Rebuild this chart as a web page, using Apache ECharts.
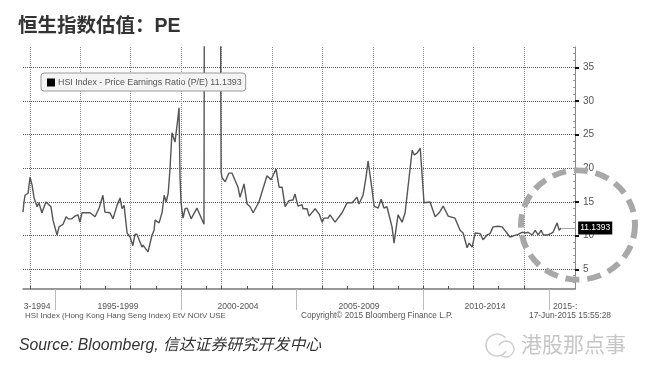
<!DOCTYPE html>
<html>
<head>
<meta charset="utf-8">
<style>
html, body { margin: 0; padding: 0; background: #fff; }
#main { width: 660px; height: 365px; filter: blur(0.55px); }
</style>
<script src="https://cdn.jsdelivr.net/npm/echarts@6/dist/echarts.min.js"></script>
</head>
<body>
<div id="main"></div>
<script>
// year position / PE (the two 60s run off the top of the plot)
var years = [1994.13,1994.17,1994.21,1994.33,1994.41,1994.49,1994.57,1994.69,1994.76,1994.88,
    1995.04,1995.24,1995.32,1995.48,1995.56,1995.72,1995.84,1995.92,1996.07,1996.19,1996.31,1996.39,1996.47,1996.79,1996.99,
    1997.15,1997.30,1997.38,1997.58,1997.70,1997.86,1997.98,1998.06,1998.14,1998.26,1998.38,1998.49,1998.57,1998.65,1998.85,1998.89,
    1999.09,1999.25,1999.33,1999.37,1999.53,1999.65,1999.73,1999.81,1999.89,1999.96,
    2000.04,2000.16,2000.28,2000.32,2000.36,2000.40,2000.48,2000.56,2000.64,2000.80,
    2001.03,2001.31,2001.33,2001.95,2001.99,2002.03,2002.15,2002.30,2002.42,2002.66,2002.74,2002.90,
    2003.02,2003.14,2003.26,2003.49,2003.81,2003.97,2004.17,2004.29,2004.41,2004.53,2004.68,2004.84,2004.92,
    2005.04,2005.20,2005.24,2005.40,2005.48,2005.72,2005.88,2006.00,2006.07,2006.23,2006.31,2006.51,2006.79,2006.99,
    2007.19,2007.38,2007.46,2007.62,2007.74,2007.82,2007.98,2008.06,2008.22,2008.34,2008.45,2008.57,2008.77,2008.85,
    2009.01,2009.17,2009.29,2009.57,2009.65,2009.77,2009.89,2010.04,2010.28,2010.48,2010.64,2010.80,
    2011.00,2011.27,2011.47,2011.59,2011.75,2011.83,2011.95,2012.07,2012.27,2012.38,2012.54,2012.66,2012.78,2012.98,
    2013.14,2013.45,2013.77,2013.93,2014.09,2014.17,2014.33,2014.45,2014.57,2014.69,2014.77,2014.96,
    2015.16,2015.32,2015.40,2015.48];
var pe = [13.5,15.0,16.0,16.3,18.7,17.5,15.6,14.3,14.9,13.4,
    15.0,14.3,12.3,10.1,11.3,11.7,12.8,12.5,12.5,12.9,13.1,12.0,13.4,13.4,12.8,
    14.1,16.0,13.5,13.4,12.5,14.5,15.6,14.0,14.5,10.4,9.8,8.5,10.2,10.2,8.3,8.6,
    7.6,10.1,10.8,12.3,11.9,13.5,16.0,15.0,16.3,19.8,
    25.3,23.9,27.6,29.0,18.7,14.9,12.6,14.0,14.1,12.5,
    14.1,11.7,60,60,19.4,18.6,18.0,19.3,19.3,17.2,15.7,17.7,
    14.7,14.3,13.4,15.0,18.9,18.3,19.9,17.2,17.2,14.3,15.2,15.3,16.2,
    14.4,14.6,14.0,14.0,12.9,14.0,13.2,12.0,12.6,12.6,13.1,12.0,13.4,14.9,
    14.9,15.7,14.7,16.0,18.7,21.1,16.8,14.4,14.1,15.4,14.1,14.3,11.3,8.9,
    13.1,12.0,13.4,22.7,22.0,22.3,23.0,14.9,15.0,12.8,13.4,14.4,
    12.9,12.6,10.8,10.4,8.2,8.9,8.3,10.4,10.3,9.4,10.1,10.3,11.3,11.4,
    11.3,9.8,10.2,10.5,10.4,10.5,10.1,10.8,10.1,10.8,10.1,10.1,
    10.5,11.9,10.8,11.1393];

var yTicks = [5, 10, 15, 20, 25, 30, 35];
var xLabels = ['3-1994', '1995-1999', '2000-2004', '2005-2009', '2010-2014', '2015-:'];
var xLabelAt = [1994.69, 1997.90, 2002.66, 2007.46, 2012.46, 2015.64];
var xSeparators = [1995.40, 2000.40, 2004.96, 2010.00, 2015.00];
var xGridAt = [1994.41, 1996.39, 1998.38, 2000.40, 2001.99, 2004.01, 2005.99, 2008.02, 2010.00, 2011.99, 2014.01];
var xMinorAt = [1997.38, 1999.41, 2001.39, 2003.02, 2006.99, 2009.01, 2010.99, 2012.98];

var seriesName = 'HSI Index - Price Earnings Ratio (P/E)';
var lastPe = '11.1393';
var xMin = 1994.13, xMax = 2016.03, yMin = 2.07, yMax = 38.04;
var sans = '"Liberation Sans", Arial, sans-serif';
var cjk = '"Noto Sans CJK SC", sans-serif';

var lineData = [];
for (var i = 0; i < years.length; i++) {
    lineData.push([years[i], pe[i]]);
}

function smallText(text, left, top, size) {
    return { text: text, left: left, top: top, padding: 0,
        textStyle: { fontFamily: sans, fontSize: size, fontWeight: 'normal', color: '#555' } };
}

var option = {
    animation: false,
    backgroundColor: '#fff',
    title: [
        { text: '恒生指数估值：PE', left: 18, top: 17, padding: 0,
          textStyle: { fontFamily: sans + ',' + cjk, fontSize: 19.5, fontWeight: 'bold', color: '#333' } },
        smallText('HSI Index (Hong Kong Hang Seng Index) EtV NOtV USE', 25, 312, 7.95),
        smallText('Copyright© 2015 Bloomberg Finance L.P.', 301, 312, 8.25),
        smallText('17-Jun-2015 15:55:28', 529, 312, 8.4),
        { text: 'Source: Bloomberg, 信达证券研究开发中心', left: 19, top: 338, padding: 0,
          textStyle: { fontFamily: sans + ',' + cjk, fontSize: 15.8, fontStyle: 'italic', fontWeight: 'normal', color: '#333' } },
        { text: '港股那点事', left: 521, top: 334, padding: 0,
          textStyle: { fontFamily: cjk, fontSize: 21, fontWeight: 'normal', color: '#c6c6c6' } }
    ],
    legend: {
        left: 41,
        top: 73,
        padding: [5, 4, 4, 6],
        itemWidth: 8,
        itemHeight: 8,
        itemGap: 0,
        borderColor: '#999',
        borderWidth: 1,
        borderRadius: 3,
        backgroundColor: '#f4f4f4',
        icon: 'rect',
        itemStyle: { color: '#000' },
        lineStyle: { opacity: 0 },
        formatter: function(name) { return name + ' ' + lastPe; },
        textStyle: { fontFamily: sans, fontSize: 8.85, color: '#555', padding: [0, 0, 0, -2] },
        data: [seriesName]
    },
    grid: { left: 23, top: 47, width: 552, height: 242 },
    xAxis: [{
        type: 'value', min: xMin, max: xMax, position: 'bottom',
        axisLine: { lineStyle: { color: '#777', width: 1.5 } },
        axisTick: { customValues: xSeparators, length: 21, lineStyle: { color: '#bbb', width: 1 } },
        axisLabel: {
            customValues: xLabelAt,
            margin: 13,
            showMinLabel: true,
            showMaxLabel: true,
            hideOverlap: false,
            fontFamily: sans,
            fontSize: 8.6,
            color: '#555',
            formatter: function(v) {
                var idx = xLabelAt.indexOf(v);
                return idx >= 0 ? xLabels[idx] : '';
            }
        },
        splitLine: { show: false }
    }, {
        type: 'value', min: xMin, max: xMax, position: 'bottom',
        axisLine: { show: false },
        axisLabel: { show: false },
        axisTick: { customValues: xGridAt, inside: true, length: 3, lineStyle: { color: '#555' } },
        splitLine: { show: true, lineStyle: { type: 'dotted', color: '#8a8a8a', width: 1 } }
    }, {
        type: 'value', min: xMin, max: xMax, position: 'bottom',
        axisLine: { show: false },
        axisLabel: { show: false },
        axisTick: { customValues: xMinorAt, inside: true, length: 3, lineStyle: { color: '#555' } },
        splitLine: { show: false }
    }],
    yAxis: [{
        type: 'value', min: yMin, max: yMax, position: 'right',
        axisLine: { show: true, lineStyle: { color: '#888', width: 1 } },
        axisTick: { customValues: yTicks, length: 4, lineStyle: { color: '#111', width: 2 } },
        axisLabel: {
            customValues: yTicks,
            margin: 8,
            fontFamily: sans,
            fontSize: 10,
            color: '#555'
        },
        splitLine: { show: true, lineStyle: { type: 'dotted', color: '#555', width: 1 } }
    }, {
        type: 'value', min: 2, max: 38, position: 'right', interval: 1,
        axisLine: { show: false },
        axisLabel: { show: false },
        axisTick: { inside: true, length: 2, lineStyle: { color: '#999' } },
        splitLine: { show: false }
    }],
    series: [{
        name: seriesName,
        type: 'line',
        data: lineData,
        symbol: 'none',
        clip: true,
        lineStyle: { color: '#555', width: 1.4 },
        itemStyle: { color: '#000' },
        endLabel: {
            show: true,
            formatter: lastPe,
            distance: 17,
            backgroundColor: '#000',
            color: '#fff',
            fontFamily: sans,
            fontSize: 8.5,
            padding: [2, 2, 2, 2]
        },
        markLine: {
            silent: true,
            symbol: 'none',
            label: { show: false },
            lineStyle: { type: 'solid', color: '#aaa', width: 1 },
            data: [[{ coord: [years[years.length - 1], pe[pe.length - 1]] }, { coord: [xMax, pe[pe.length - 1]] }]]
        }
    }],
    graphic: [{
        // dashed highlight ring around the latest values
        type: 'circle',
        x: 578,
        y: 225,
        scaleY: 0.96,
        z: 50,
        shape: { r: 57 },
        style: { fill: 'none', stroke: '#a8a8a8', lineWidth: 6, lineDash: [14, 8] }
    }, {
        type: 'arc', x: 497, y: 345, z: 50,
        shape: { r: 11, startAngle: 0.6, endAngle: 5.6 },
        style: { fill: 'none', stroke: '#cfcfcf', lineWidth: 1.5 }
    }, {
        type: 'arc', x: 506, y: 349, z: 50,
        shape: { r: 8, startAngle: 3.6, endAngle: 8.4 },
        style: { fill: 'none', stroke: '#cfcfcf', lineWidth: 1.5 }
    }]
};

var myChart = echarts.init(document.getElementById('main'));
myChart.setOption(option);
</script>
</body>
</html>
